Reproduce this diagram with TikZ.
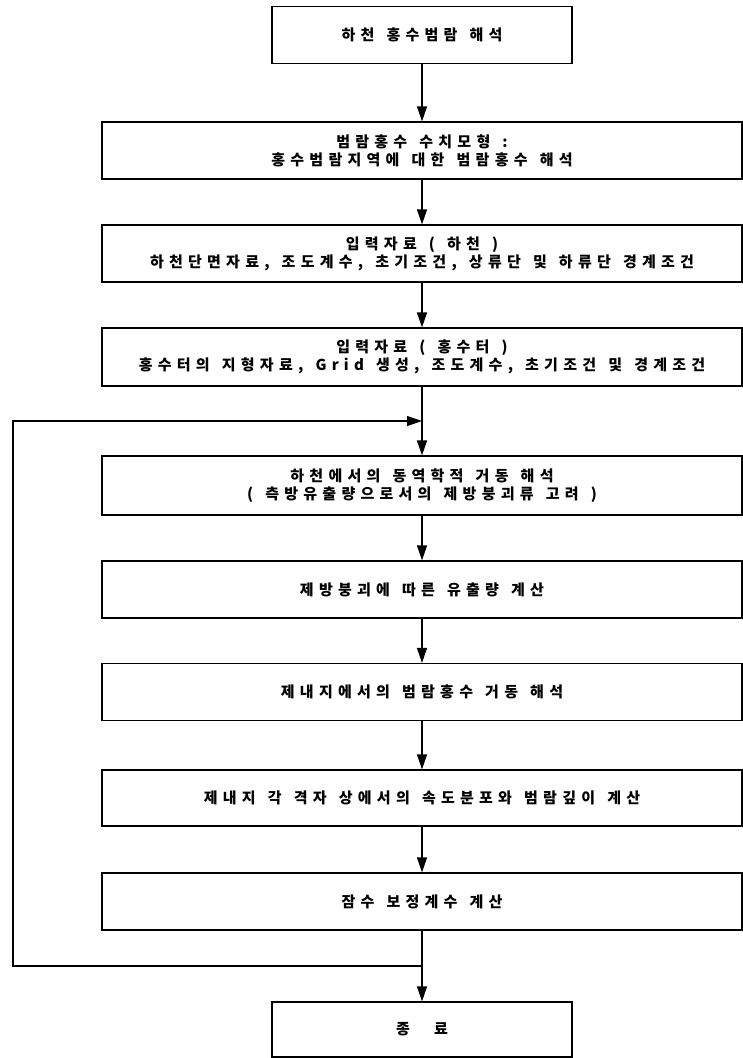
\documentclass[tikz,border=0pt]{standalone}
\usepackage{fontspec}
\newfontfamily\krfont[LetterSpace=35,WordSpace=1.4]{Noto Sans CJK KR}
\usetikzlibrary{arrows.meta,calc}

\begin{document}
\begin{tikzpicture}[x=1pt,y=-1pt,
  box/.style={draw, line width=1.2pt, minimum width=640pt, minimum height=57pt,
    inner sep=0pt, align=center, font={\krfont\bfseries\fontsize{15}{18}\selectfont}},
  endbox/.style={box, minimum width=300pt},
  flow/.style={line width=1.2pt, -{Triangle[length=15pt,width=10pt]}}]
\useasboundingbox (0,0) rectangle (743,1058);

% main column
\node[endbox] (start) at (422,35) {하천 홍수범람 해석};
\node[box] (model) at (422,150.5) {범람홍수 수치모형 :\\홍수범람지역에 대한 범람홍수 해석};
\node[box] (river) at (422,253.5) {입력자료 ( 하천 )\\하천단면자료, 조도계수, 초기조건, 상류단 및 하류단 경계조건};
\node[box, minimum height=58pt] (plain) at (422,357) {입력자료 ( 홍수터 )\\홍수터의 지형자료, Grid 생성, 조도계수, 초기조건 및 경계조건};
\node[box, minimum height=59pt] (dyn) at (422,485.5) {하천에서의 동역학적 거동 해석\\( 측방유출량으로서의 제방붕괴류 고려 )};
\node[box] (breach) at (422,589.5) {제방붕괴에 따른 유출량 계산};
\node[box] (inland) at (422,692) {제내지에서의 범람홍수 거동 해석};
\node[box, minimum height=56pt] (grid) at (422,798) {제내지 각 격자 상에서의 속도분포와 범람깊이 계산};
\node[box] (coef) at (422,901.5) {잠수 보정계수 계산};
\node[endbox, minimum height=55pt] (stop) at (422,1029.5) {종 \ 료};

% arrows
\draw[flow] (start) -- (model);
\draw[flow] (model) -- (river);
\draw[flow] (river) -- (plain);
\draw[flow] (plain) -- (dyn);
\draw[flow] (dyn) -- (breach);
\draw[flow] (breach) -- (inland);
\draw[flow] (inland) -- (grid);
\draw[flow] (grid) -- (coef);
\draw[flow] (coef) -- (stop);

% feedback loop
\coordinate (back) at ($(coef.south)!0.5!(stop.north)$);
\coordinate (join) at ($(plain.south)!0.5!(dyn.north)$);
\coordinate (rail) at (13,0);
\draw[flow] (back) -- (back -| rail) -- (join -| rail) -- (join);
\end{tikzpicture}
\end{document}
